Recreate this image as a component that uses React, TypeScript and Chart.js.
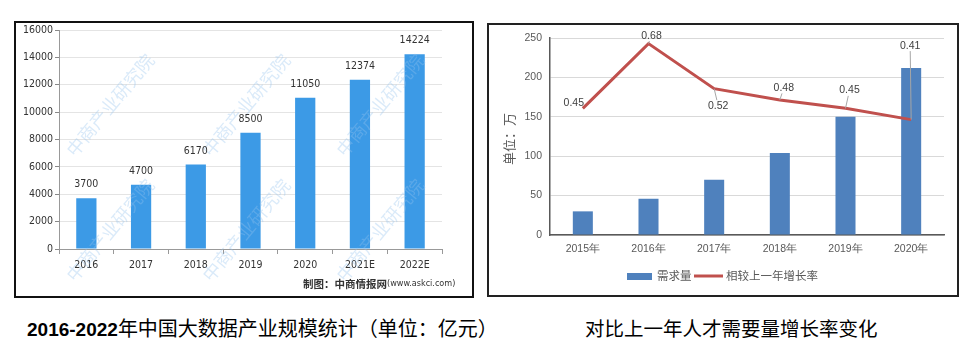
import React, { useEffect, useRef } from "react";
import { Chart, registerables } from "chart.js";

Chart.register(...registerables);

// ---------- data: left chart ----------
const sizeYears = ["2016", "2017", "2018", "2019", "2020", "2021E", "2022E"];
const sizeValues = [3700, 4700, 6170, 8500, 11050, 12374, 14224];
const sizeMax = 16000;
const sizeStep = 2000;

// ---------- data: right chart ----------
const demandYears = ["2015年", "2016年", "2017年", "2018年", "2019年", "2020年"];
const demandValues = [30, 46, 70, 104, 150, 212];
const growthRates = [0.45, 0.68, 0.52, 0.48, 0.45, 0.41];
const demandMax = 250;
const demandStep = 50;
const growthAxisMax = 0.7;

// ---------- texts ----------
const leftCaptionNum = "2016-2022";
const leftCaptionText = "年中国大数据产业规模统计（单位：亿元）";
const rightCaption = "对比上一年人才需要量增长率变化";
const sourceBold = "制图：中商情报网";
const sourceUrl = "(www.askci.com)";
const watermark = "中商产业研究院";
const demandLegend = "需求量";
const growthLegend = "相较上一年增长率";
const unitTitle = "单位：万";

// label placement offsets (layout only) for growth labels, relative to point
const growthLabelOffsets: [number, number][] = [
  [-9, -5],
  [3, -8],
  [4, 17],
  [4, -12],
  [4, -18],
  [-1, -74],
];

const NARROW = "'Liberation Sans Narrow', 'Arial Narrow', 'DejaVu Sans Condensed', 'Liberation Sans', sans-serif";
const SANS = "'Liberation Sans', Arial, sans-serif";
const CJK = "'Noto Sans CJK SC', 'Noto Sans', sans-serif";

function SizeChart() {
  const ref = useRef<HTMLCanvasElement>(null);
  useEffect(() => {
    const labelPlugin = {
      id: "sizeLabels",
      afterDatasetsDraw(chart: any) {
        const ctx = chart.ctx;
        const meta = chart.getDatasetMeta(0);
        ctx.save();
        // watermarks
        ctx.fillStyle = "rgba(150,195,238,0.35)";
        ctx.font = `18px ${CJK}`;
        ctx.textAlign = "center";
        ctx.textBaseline = "middle";
        const xs = [96, 232, 366];
        const ys = [84, 209];
        for (const wx of xs) {
          for (const wy of ys) {
            ctx.save();
            ctx.translate(wx, wy);
            ctx.rotate(-0.88);
            ctx.fillText(watermark, 0, 0);
            ctx.restore();
          }
        }
        // data labels
        ctx.fillStyle = "#333";
        ctx.font = `10.5px ${NARROW}`;
        ctx.textAlign = "center";
        ctx.textBaseline = "alphabetic";
        meta.data.forEach((bar: any, i: number) => {
          ctx.fillText(String(sizeValues[i]), bar.x, bar.y - 11);
        });
        // source
        ctx.textAlign = "left";
        ctx.textBaseline = "middle";
        ctx.fillStyle = "#333";
        ctx.font = `bold 10.5px ${CJK}`;
        const sx = 289;
        const sy = 263;
        ctx.fillText(sourceBold, sx, sy);
        const w = ctx.measureText(sourceBold).width;
        ctx.font = `9px ${NARROW}`;
        ctx.fillText(sourceUrl, sx + w, sy);
        ctx.restore();
      },
    };
    const chart = new Chart(ref.current!, {
      type: "bar",
      data: {
        labels: sizeYears,
        datasets: [
          {
            data: sizeValues,
            backgroundColor: "#3c9ae6",
            categoryPercentage: 1,
            barPercentage: 0.37,
          },
        ],
      },
      options: {
        responsive: false,
        animation: false,
        layout: { padding: { left: 0, top: 9, right: 32, bottom: 0 } },
        plugins: { legend: { display: false }, tooltip: { enabled: false } },
        scales: {
          x: {
            grid: { offset: true, drawOnChartArea: false, drawTicks: true, tickLength: 5, tickColor: "#999" },
            border: { color: "#999" },
            ticks: { color: "#333", font: { family: NARROW, size: 10.5 }, padding: 5 },
            afterFit: (s: any) => {
              s.height = 49;
            },
          },
          y: {
            min: 0,
            max: sizeMax,
            ticks: {
              stepSize: sizeStep,
              color: "#333",
              font: { family: NARROW, size: 10.5 },
              padding: 2,
              callback: (v: any) => String(v),
            },
            grid: { color: "#e4e4e4", tickLength: 4, tickColor: "#888" },
            border: { color: "#999" },
            afterFit: (s: any) => {
              s.width = 45;
            },
          },
        },
      },
      plugins: [labelPlugin],
    } as any);
    return () => chart.destroy();
  }, []);
  return <canvas ref={ref} width={460} height={277} style={{ position: "absolute", left: 0, top: 0, width: 460, height: 277 }} />;
}

function DemandChart() {
  const ref = useRef<HTMLCanvasElement>(null);
  useEffect(() => {
    const extraPlugin = {
      id: "demandExtras",
      afterDatasetsDraw(chart: any) {
        const ctx = chart.ctx;
        const meta = chart.getDatasetMeta(1);
        ctx.save();
        ctx.font = `10.5px ${SANS}`;
        ctx.textAlign = "center";
        ctx.textBaseline = "middle";
        meta.data.forEach((pt: any, i: number) => {
          const [dx, dy] = growthLabelOffsets[i];
          const lx = pt.x + dx;
          const ly = pt.y + dy;
          const txt = growthRates[i].toFixed(2);
          const hw = ctx.measureText(txt).width / 2 + 1;
          const hh = 5.5;
          const vx = pt.x - lx;
          const vy = pt.y - ly;
          if (Math.abs(vx) > hw || Math.abs(vy) > hh) {
            const tx = vx !== 0 ? hw / Math.abs(vx) : Infinity;
            const ty = vy !== 0 ? hh / Math.abs(vy) : Infinity;
            const t = Math.min(tx, ty);
            ctx.strokeStyle = "#a6a6a6";
            ctx.lineWidth = 1;
            ctx.beginPath();
            ctx.moveTo(lx + vx * t, ly + vy * t);
            ctx.lineTo(pt.x, pt.y);
            ctx.stroke();
          }
          ctx.fillStyle = "#404040";
          ctx.fillText(txt, lx, ly);
        });
        // y title
        ctx.save();
        ctx.translate(22, 116);
        ctx.rotate(-Math.PI / 2);
        ctx.fillStyle = "#595959";
        ctx.font = `13px ${CJK}`;
        ctx.fillText(unitTitle, 0, 0);
        ctx.restore();
        // legend
        const ly = 253;
        ctx.fillStyle = "#4f81bd";
        ctx.fillRect(140, ly - 3, 25, 7);
        ctx.fillStyle = "#595959";
        ctx.font = `11.5px ${CJK}`;
        ctx.textAlign = "left";
        ctx.fillText(demandLegend, 170, ly);
        ctx.strokeStyle = "#c0504d";
        ctx.lineWidth = 3;
        ctx.beginPath();
        ctx.moveTo(207, ly);
        ctx.lineTo(236, ly);
        ctx.stroke();
        ctx.fillText(growthLegend, 239, ly);
        ctx.restore();
      },
    };
    const chart = new Chart(ref.current!, {
      type: "bar",
      data: {
        labels: demandYears,
        datasets: [
          {
            type: "bar",
            label: demandLegend,
            data: demandValues,
            backgroundColor: "#4f81bd",
            categoryPercentage: 1,
            barPercentage: 0.305,
            yAxisID: "y",
            order: 2,
          },
          {
            type: "line",
            label: growthLegend,
            data: growthRates,
            borderColor: "#c0504d",
            borderWidth: 3,
            pointRadius: 0,
            tension: 0,
            yAxisID: "y2",
            order: 1,
          },
        ],
      },
      options: {
        responsive: false,
        animation: false,
        layout: { padding: { left: 0, top: 15, right: 15, bottom: 0 } },
        plugins: { legend: { display: false }, tooltip: { enabled: false } },
        scales: {
          x: {
            grid: { display: true, drawOnChartArea: false, drawTicks: false },
            border: { color: "#595959", width: 1.5 },
            ticks: { color: "#595959", font: { family: SANS, size: 10.5 }, padding: 8 },
            afterFit: (s: any) => {
              s.height = 62;
            },
          },
          y: {
            min: 0,
            max: demandMax,
            ticks: { stepSize: demandStep, color: "#595959", font: { family: SANS, size: 10.5 }, padding: 8 },
            grid: { color: "#d9d9d9", drawTicks: false },
            border: { color: "#595959", width: 1.5 },
            afterFit: (s: any) => {
              s.width = 63;
            },
          },
          y2: {
            display: false,
            min: 0,
            max: growthAxisMax,
          },
        },
      },
      plugins: [extraPlugin],
    } as any);
    return () => chart.destroy();
  }, []);
  return <canvas ref={ref} width={472} height={274} style={{ position: "absolute", left: 0, top: 0, width: 472, height: 274 }} />;
}

export default function App() {
  return (
    <div style={{ position: "absolute", left: 0, top: 0, width: 968, height: 363, background: "#fff", overflow: "hidden" }}>
      <div style={{ position: "absolute", left: 14, top: 21, width: 460, height: 277 }}>
        <SizeChart />
        <div style={{ position: "absolute", left: 0, top: 0, width: 460, height: 277, border: "2px solid #111", boxSizing: "border-box", pointerEvents: "none" }} />
      </div>
      <div style={{ position: "absolute", left: 487, top: 23, width: 472, height: 274 }}>
        <DemandChart />
        <div style={{ position: "absolute", left: 0, top: 0, width: 472, height: 274, border: "2px solid #222", boxSizing: "border-box", pointerEvents: "none" }} />
      </div>
      <div style={{ position: "absolute", left: 27, top: 316, height: 24, lineHeight: "24px", whiteSpace: "nowrap", color: "#000" }}>
        <span style={{ fontFamily: SANS, fontWeight: 700, fontSize: 19 }}>{leftCaptionNum}</span>
        <span style={{ fontFamily: CJK, fontSize: 20 }}>{leftCaptionText}</span>
      </div>
      <div style={{ position: "absolute", left: 585, top: 316, height: 24, lineHeight: "24px", whiteSpace: "nowrap", color: "#000", fontFamily: CJK, fontSize: 19.5 }}>
        {rightCaption}
      </div>
    </div>
  );
}
